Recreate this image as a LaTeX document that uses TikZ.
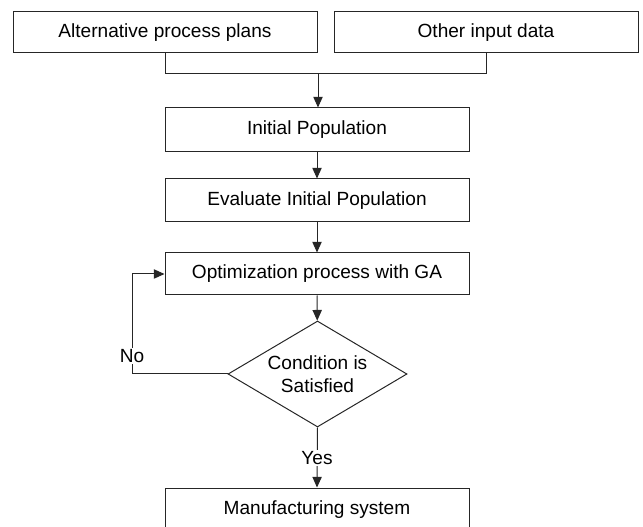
\documentclass[tikz,border=0pt]{standalone}
\usepackage{fontspec}
\setmainfont{Liberation Sans}
\usetikzlibrary{shapes.geometric,arrows.meta}
\tikzset{
  box/.style={draw=black!85, line width=0.75pt, rectangle, minimum width=228pt, inner sep=0pt, font=\fontsize{14.3}{17}\selectfont},
  dec/.style={draw=black!85, line width=0.75pt, diamond, aspect=1.69, minimum width=134.25pt, minimum height=79.5pt, inner sep=0pt, align=center, font=\fontsize{14.3}{17.25}\selectfont},
  conn/.style={draw=black!85, line width=0.75pt},
  arr/.style={conn, -{Triangle[length=8pt,width=7pt]}},
  lbl/.style={fill=white, inner sep=1pt, font=\fontsize{14.3}{17}\selectfont}
}
\begin{document}
\begin{tikzpicture}[x=0.75pt,y=-0.75pt]
\useasboundingbox (0,0) rectangle (643,527);
\clip (0,0) rectangle (643,527);
\node[box, minimum height=30.75pt] (alt) at (165,32.5) {Alternative process plans};
\node[box, minimum height=30.75pt] (oth) at (486,32.5) {Other input data};
\node[box, minimum height=33pt] (init) at (317,130) {Initial Population};
\node[box, minimum height=32.25pt] (eval) at (317,200.5) {Evaluate Initial Population};
\node[box, minimum height=31.5pt] (opt) at (317,274) {Optimization process with GA};
\node[dec] (cond) at (317.5,374) {Condition is\\Satisfied};
\node[box, minimum height=33pt] (manu) at (317,510) {Manufacturing system};
\coordinate (join) at (318,74);
\coordinate (loopb) at (132,374);
\coordinate (loopt) at (132,274);
\draw[conn] (alt.south) -- (alt.south |- join) -- (oth.south |- join) -- (oth.south);
\draw[arr] (join) -- (join |- init.north);
\draw[arr] (init) -- (eval);
\draw[arr] (eval) -- (opt);
\draw[arr] (opt) -- (cond);
\draw[conn] (cond.west) -- (loopb) -- (loopt);
\draw[arr] (loopt) -- (opt.west);
\node[lbl] (no) at (132,356) {No};
\draw[arr] (cond.south) -- (manu.north);
\node[lbl] (yes) at (317,458) {Yes};
\end{tikzpicture}
\end{document}
